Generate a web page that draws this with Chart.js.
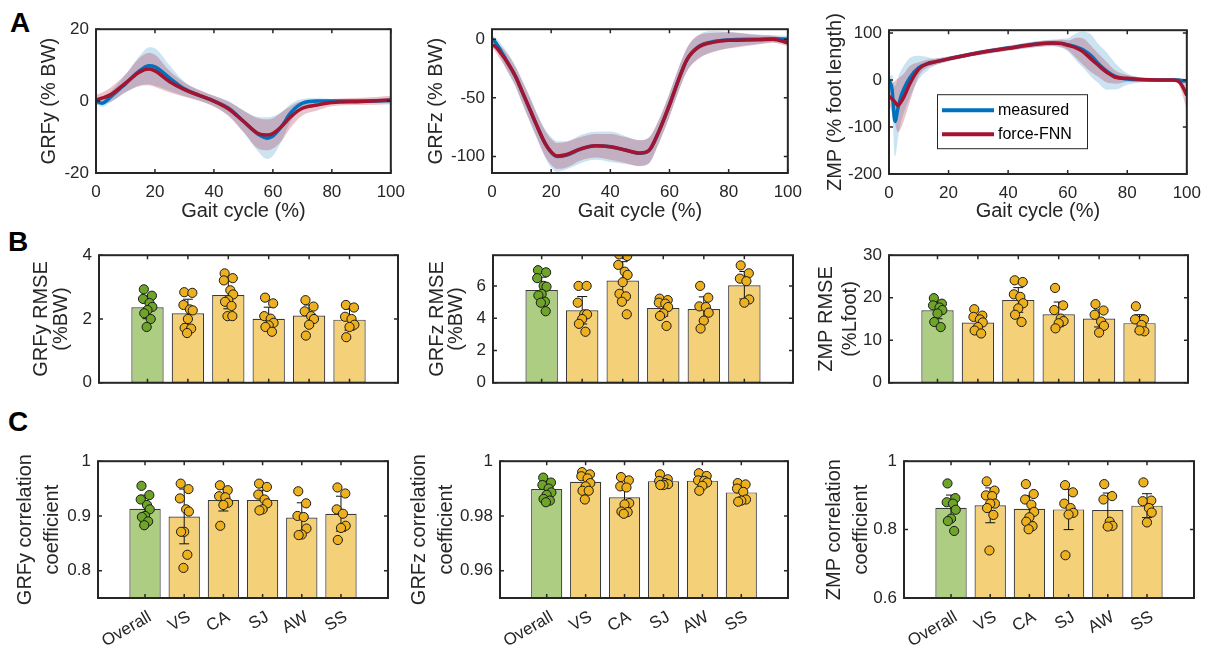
<!DOCTYPE html>
<html lang="en">
<head>
<meta charset="UTF-8">
<title>GRF and ZMP estimation</title>
<script src="https://cdn.jsdelivr.net/npm/chart.js@4.4.1/dist/chart.umd.min.js"></script>
<style>
  body { margin: 0; background: #fff; }
  #fig { position: relative; width: 1214px; height: 646px; overflow: hidden; font-family: "Liberation Sans", Arial, sans-serif; }
  #fig canvas { position: absolute; }
  .tag { position: absolute; font-weight: bold; font-size: 28px; line-height: 28px; color: #000; }
</style>
</head>
<body>
<div id="fig">
  <div class="tag" style="left:10px;top:9px">A</div>
  <div class="tag" style="left:8px;top:228px">B</div>
  <div class="tag" style="left:8px;top:408px">C</div>
</div>
<script>
// ---------- row A: mean ± SD over the gait cycle ----------
const grfyPct   = [0, 2, 5, 10, 15, 18, 20, 25, 30, 35, 40, 45, 50, 55, 58, 60, 63, 66, 70, 75, 80, 90, 100];
const grfyMeas  = [0, -0.6, 1.2, 4.8, 8.6, 9.8, 9.5, 6.4, 3.4, 1.6, 0, -2, -5.6, -9.2, -10.3, -9.7, -7, -3.3, -0.6, 0, 0, 0, 0.2];
const grfyMeasSd = [0.8, 1, 1.5, 2.5, 4.2, 5.2, 5.2, 3.5, 2, 1.5, 1.5, 2, 3, 4.8, 5.8, 5.5, 4, 2.5, 1.2, 0.8, 0.6, 0.6, 0.6];
const grfyFnn   = [0.3, 0.8, 1.8, 5.0, 8.2, 8.9, 8.4, 5.4, 3.2, 1.6, 0, -2.2, -5.6, -9.0, -9.4, -9.0, -7.0, -4.4, -2.0, -1.1, -0.4, -0.1, 0.3];
const grfyFnnSd = [1.5, 1.5, 2, 2.5, 4, 4.5, 4.5, 3, 2, 1.5, 1.5, 2, 3, 4.2, 4.3, 4.2, 4, 3, 2, 1.5, 1, 1, 1.2];

const grfzPct   = [0, 1, 3, 5, 8, 10, 13, 15, 18, 20, 22, 25, 30, 35, 40, 45, 50, 53, 56, 60, 63, 66, 70, 75, 80, 90, 95, 100];
const grfzMeas  = [0, -2, -10, -18.6, -32, -43.6, -61, -72.8, -89, -96.4, -100, -99, -93.6, -90.8, -91.7, -94.4, -97.2, -95, -81, -56, -35, -17, -6, -2, -0.6, 0, 0.3, 0];
const grfzMeasSd = [3, 4, 6, 8, 9, 10, 11, 11, 12, 13, 13, 12, 12, 12, 13, 12, 11, 11, 10, 10, 10, 10, 10, 9, 7, 4, 3, 3];
const grfzFnn   = [-5, -6, -12, -19, -32, -43.6, -61, -72.8, -89, -96, -99.5, -98.5, -93.4, -90.8, -91.7, -94.4, -97, -95, -81, -56, -35, -17, -6.5, -2.5, -1, -0.5, 0, -3];
const grfzFnnSd = [3, 4, 6, 7, 8, 9, 10, 10, 11, 11, 11, 11, 10, 10, 11, 11, 11, 11, 10, 10, 10, 10, 10, 8, 7, 4, 3, 3];

const zmpPct    = [0, 1, 2, 3, 4, 5, 7, 10, 13, 15, 20, 30, 40, 50, 55, 58, 60, 63, 65, 68, 70, 73, 76, 80, 85, 90, 95, 97, 98, 99, 100];
const zmpMeas   = [0, -19, -88, -60, -35, -19, 5, 26.5, 35, 38, 45, 58, 68, 77, 79, 78, 75, 70, 65, 51, 37, 19.5, 7.7, 2, 0.5, 0, 0, 0, -1, -2, -2];
const zmpMeasSd = [5, 30, 75, 65, 55, 50, 42, 25, 14, 8, 5, 5, 5, 6, 7, 10, 14, 30, 38, 45, 42, 40, 28, 12, 5, 3, 3, 3, 3, 3, 3];
const zmpFnn    = [-35, -40, -47, -54, -47, -36, -8, 23, 35, 38, 45, 57.5, 67.5, 76.5, 78.5, 77.5, 74, 68, 61, 44, 33, 17, 6, 3.5, 1, 0, 0, -2, -8, -19, -33];
const zmpFnnSd  = [15, 30, 45, 57, 55, 50, 38, 15, 8, 7, 5, 5, 5, 6, 6, 8, 10, 22, 28, 28, 25, 22, 14, 7, 4, 3, 3, 5, 12, 22, 32];

const gaitTicks = [0, 20, 40, 60, 80, 100];

// ---------- rows B and C: per-task bars, SD and subjects ----------
const groups = ['Overall', 'VS', 'CA', 'SJ', 'AW', 'SS'];

const grfyRmseMean = [2.37, 2.18, 2.75, 2.01, 2.11, 1.98];
const grfyRmseSd   = [0.36, 0.44, 0.43, 0.36, 0.33, 0.33];
const grfyRmseSubj = [
  [2.93, 2.73, 2.63, 2.50, 2.38, 2.28, 2.18, 2.00, 1.75],
  [2.84, 2.82, 2.44, 2.30, 2.27, 2.00, 1.72, 1.70, 1.56],
  [3.43, 3.28, 3.21, 2.90, 2.77, 2.59, 2.54, 2.41, 2.09, 2.09],
  [2.67, 2.49, 2.09, 2.01, 1.88, 1.80, 1.75, 1.60],
  [2.59, 2.39, 2.24, 2.09, 2.00, 1.82, 1.48],
  [2.44, 2.36, 2.07, 2.00, 1.82, 1.75, 1.43]
];

const grfzRmseMean = [5.74, 4.49, 6.33, 4.63, 4.57, 6.04];
const grfzRmseSd   = [0.8, 0.85, 1.17, 0.5, 0.75, 0.85];
const grfzRmseSubj = [
  [6.97, 6.84, 6.48, 6.00, 5.95, 5.50, 5.41, 5.02, 4.96, 4.43],
  [6.00, 6.00, 4.96, 4.24, 4.24, 3.95, 3.65, 3.16],
  [7.95, 7.85, 7.30, 6.88, 6.68, 6.23, 5.51, 5.35, 5.02, 4.24],
  [5.21, 5.12, 4.96, 4.90, 4.69, 4.30, 4.14, 3.52],
  [6.00, 5.27, 4.73, 4.69, 4.34, 3.85, 3.36],
  [7.27, 6.78, 6.45, 6.29, 5.16, 4.96]
];

const zmpRmseMean = [17.05, 14.17, 19.48, 16.09, 15.13, 14.02];
const zmpRmseSd   = [2.0, 1.9, 2.9, 2.9, 2.0, 2.0];
const zmpRmseSubj = [
  [19.9, 18.6, 18.2, 17.7, 17.1, 16.3, 14.3, 13.1],
  [17.3, 15.8, 15.5, 14.9, 14.2, 13.1, 12.3, 11.6],
  [24.1, 23.7, 20.8, 20.2, 18.7, 17.5, 16.0, 14.3],
  [22.3, 18.2, 17.1, 15.1, 14.5, 14.0, 12.8],
  [18.5, 17.0, 16.0, 14.4, 13.4, 11.8],
  [18.0, 14.9, 14.9, 13.6, 12.1, 12.3]
];

const grfyCorrMean = [0.913, 0.899, 0.929, 0.929, 0.897, 0.904];
const grfyCorrSd   = [0.025, 0.05, 0.02, 0.018, 0.027, 0.032];
const grfyCorrSubj = [
  [0.955, 0.938, 0.930, 0.920, 0.912, 0.900, 0.898, 0.890, 0.883],
  [0.959, 0.949, 0.932, 0.912, 0.908, 0.871, 0.871, 0.829, 0.805],
  [0.956, 0.947, 0.936, 0.934, 0.924, 0.920, 0.882],
  [0.959, 0.953, 0.939, 0.930, 0.923, 0.912, 0.910],
  [0.945, 0.923, 0.900, 0.898, 0.877, 0.866, 0.865],
  [0.952, 0.941, 0.912, 0.904, 0.882, 0.878, 0.856]
];

const grfzCorrMean = [0.9898, 0.9925, 0.9868, 0.9927, 0.9929, 0.9886];
const grfzCorrSd   = [0.003, 0.003, 0.005, 0.0015, 0.002, 0.0025];
const grfzCorrSubj = [
  [0.9940, 0.9922, 0.9913, 0.9900, 0.9886, 0.9877, 0.9862, 0.9856, 0.9850],
  [0.9960, 0.9952, 0.9945, 0.9937, 0.9920, 0.9908, 0.9892, 0.9892, 0.9860],
  [0.9942, 0.9930, 0.9908, 0.9904, 0.9847, 0.9842, 0.9816, 0.9814, 0.9808],
  [0.9952, 0.9934, 0.9928, 0.9920, 0.9916, 0.9913, 0.9913],
  [0.9956, 0.9946, 0.9930, 0.9928, 0.9922, 0.9910, 0.9892],
  [0.9920, 0.9915, 0.9900, 0.9888, 0.9860, 0.9856, 0.9852]
];

const zmpCorrMean = [0.864, 0.871, 0.861, 0.859, 0.857, 0.870];
const zmpCorrSd   = [0.037, 0.051, 0.038, 0.059, 0.05, 0.035];
const zmpCorrSubj = [
  [0.935, 0.892, 0.880, 0.876, 0.858, 0.832, 0.825, 0.796],
  [0.941, 0.914, 0.900, 0.898, 0.876, 0.876, 0.863, 0.843, 0.739],
  [0.933, 0.904, 0.888, 0.873, 0.852, 0.836, 0.823, 0.810, 0.801],
  [0.930, 0.909, 0.876, 0.863, 0.849, 0.844, 0.725],
  [0.933, 0.898, 0.888, 0.823, 0.811, 0.809],
  [0.938, 0.885, 0.883, 0.863, 0.850, 0.821]
];

// horizontal spread of the subject dots around each bar (in category units)
const jitter = [-0.09, 0.11, -0.11, 0.05, 0.12, 0.0, -0.08, 0.08, -0.02, 0.1];

// ---------- styling ----------
const INK = '#262626';
const FONT = '"Liberation Sans", Arial, Helvetica, sans-serif';
const BLUE = 'rgb(0,114,189)';
const RED = 'rgb(162,20,47)';
const BLUE_BAND = 'rgba(0,114,189,0.2)';
const RED_BAND = 'rgba(162,20,47,0.25)';
const BAR_FILL = ['rgb(173,205,131)', 'rgb(244,208,121)'];
const DOT_FILL = ['rgb(110,165,40)', 'rgb(237,177,32)'];

const fig = document.getElementById('fig');

// box with inward ticks on all four sides
const boxPlugin = {
  id: 'axisBox',
  afterDatasetsDraw(chart) {
    const {ctx, chartArea: a, scales: {x, y}} = chart;
    ctx.save();
    ctx.strokeStyle = INK;
    ctx.lineWidth = 1.5;
    ctx.beginPath();
    x.ticks.forEach(t => {
      const px = x.getPixelForValue(t.value);
      ctx.moveTo(px, a.bottom); ctx.lineTo(px, a.bottom - 4);
      ctx.moveTo(px, a.top); ctx.lineTo(px, a.top + 4);
    });
    y.ticks.forEach(t => {
      const py = y.getPixelForValue(t.value);
      ctx.moveTo(a.left, py); ctx.lineTo(a.left + 4, py);
      ctx.moveTo(a.right, py); ctx.lineTo(a.right - 4, py);
    });
    ctx.stroke();
    ctx.lineWidth = 2;
    ctx.strokeRect(a.left, a.top, a.right - a.left, a.bottom - a.top);
    ctx.restore();
  }
};

// standard deviation whiskers, drawn right after the bars
const sdPlugin = {
  id: 'sdBars',
  afterDatasetDraw(chart, args, opts) {
    if (args.meta.type !== 'bar' || !opts.sd) return;
    const {ctx, chartArea: a, scales: {x, y}} = chart;
    ctx.save();
    ctx.beginPath();
    ctx.rect(a.left, a.top, a.right - a.left, a.bottom - a.top);
    ctx.clip();
    ctx.strokeStyle = '#111';
    ctx.lineWidth = 1;
    ctx.beginPath();
    opts.mean.forEach((m, i) => {
      const px = x.getPixelForValue(i + 1);
      const y1 = y.getPixelForValue(m - opts.sd[i]);
      const y2 = y.getPixelForValue(m + opts.sd[i]);
      ctx.moveTo(px, y1); ctx.lineTo(px, y2);
      ctx.moveTo(px - 5, y1); ctx.lineTo(px + 5, y1);
      ctx.moveTo(px - 5, y2); ctx.lineTo(px + 5, y2);
    });
    ctx.stroke();
    ctx.restore();
  }
};

// boxed legend sitting inside the plot area
const legendPlugin = {
  id: 'boxLegend',
  afterDraw(chart, args, opts) {
    if (!opts.items) return;
    const {ctx, chartArea: a} = chart;
    const x0 = a.left + opts.dx, y0 = a.top + opts.dy;
    ctx.save();
    ctx.fillStyle = '#fff';
    ctx.fillRect(x0, y0, opts.w, opts.h);
    ctx.strokeStyle = INK;
    ctx.lineWidth = 1;
    ctx.strokeRect(x0 + 0.5, y0 + 0.5, opts.w, opts.h);
    opts.items.forEach((it, i) => {
      const yy = y0 + 16 + i * 24;
      ctx.strokeStyle = it.color;
      ctx.lineWidth = 4;
      ctx.beginPath();
      ctx.moveTo(x0 + 5, yy); ctx.lineTo(x0 + 57, yy);
      ctx.stroke();
      ctx.fillStyle = '#000';
      ctx.font = '16px ' + FONT;
      ctx.textBaseline = 'middle';
      ctx.fillText(it.text, x0 + 61, yy);
    });
    ctx.restore();
  }
};

function frame(p) {
  const left = p.box.l - 90, top = p.box.t - 14;
  const width = p.box.r + 18 - left, height = p.bottom - top;
  const c = document.createElement('canvas');
  c.width = width; c.height = height;
  Object.assign(c.style, {left: left + 'px', top: top + 'px', width: width + 'px', height: height + 'px'});
  fig.appendChild(c);
  return {canvas: c, left};
}

function scales(p, f, xs) {
  return {
    x: {
      type: 'linear', min: xs.min, max: xs.max, offset: false,
      grid: {display: false, drawTicks: false, offset: false}, border: {display: false},
      afterBuildTicks: s => { s.ticks = xs.ticks.map(v => ({value: v})); },
      afterFit: s => { s.height = p.bottom - p.box.b; },
      ticks: {color: INK, font: {family: FONT, size: 17}, padding: xs.pad, autoSkip: false,
              labelOffset: xs.shift || 0,
              minRotation: xs.rot, maxRotation: xs.rot, callback: xs.label},
      title: {display: !!xs.title, text: xs.title, color: INK,
              font: {family: FONT, size: 20, lineHeight: 1.2}, padding: {top: 0, bottom: xs.titlePad || 0}}
    },
    y: {
      type: 'linear', min: p.yMin, max: p.yMax,
      grid: {display: false, drawTicks: false}, border: {display: false},
      afterBuildTicks: s => { s.ticks = p.yTicks.map(v => ({value: v})); },
      afterFit: s => { s.width = p.box.l - f.left; },
      ticks: {color: INK, font: {family: FONT, size: 17}, padding: 7, callback: v => String(v)},
      title: {display: true, text: p.yTitle, color: INK,
              font: {family: FONT, size: 20, lineHeight: p.titleLH / 20},
              padding: {top: p.titleX - f.left - p.titleLH / 2, bottom: 0}}
    }
  };
}

const baseOptions = {
  responsive: false,
  animation: false,
  events: [],
  layout: {padding: {left: 0, top: 14, right: 18, bottom: 0}}
};

const xy = (pct, vals) => pct.map((g, i) => ({x: g, y: vals[i]}));
const plus = (m, s) => m.map((v, i) => v + s[i]);
const minus = (m, s) => m.map((v, i) => v - s[i]);

function gaitPanel(p) {
  const f = frame(p);
  const curve = {pointRadius: 0, cubicInterpolationMode: 'monotone'};
  const edge = {...curve, borderWidth: 0, borderColor: 'transparent'};
  new Chart(f.canvas, {
    type: 'line',
    data: {datasets: [
      {...curve, label: 'force-FNN', data: xy(p.pct, p.fnn), borderColor: RED, borderWidth: 3.5, fill: false},
      {...curve, label: 'measured', data: xy(p.pct, p.meas), borderColor: BLUE, borderWidth: 3.5, fill: false},
      {...edge, data: xy(p.pct, minus(p.fnn, p.fnnSd)), backgroundColor: RED_BAND, fill: '+1'},
      {...edge, data: xy(p.pct, plus(p.fnn, p.fnnSd)), fill: false},
      {...edge, data: xy(p.pct, minus(p.meas, p.measSd)), backgroundColor: BLUE_BAND, fill: '+1'},
      {...edge, data: xy(p.pct, plus(p.meas, p.measSd)), fill: false}
    ]},
    options: {
      ...baseOptions,
      plugins: {legend: {display: false}, tooltip: {enabled: false}, boxLegend: p.legend || {}},
      scales: scales(p, f, {min: 0, max: 100, ticks: gaitTicks, pad: 9, rot: 0,
                            label: v => String(v), title: 'Gait cycle (%)', titlePad: 13})
    },
    plugins: [boxPlugin, legendPlugin]
  });
}

function taskPanel(p) {
  const f = frame(p);
  const dots = [], dotColors = [];
  p.subj.forEach((vals, g) => vals.forEach((v, k) => {
    dots.push({x: g + 1 + jitter[k % jitter.length], y: v});
    dotColors.push(DOT_FILL[g === 0 ? 0 : 1]);
  }));
  new Chart(f.canvas, {
    type: 'bar',
    data: {datasets: [
      {type: 'scatter', data: dots, pointRadius: 4.6, pointBackgroundColor: dotColors,
       pointBorderColor: '#1a1a1a', pointBorderWidth: 1},
      {type: 'bar', data: p.mean.map((m, i) => ({x: i + 1, y: m})),
       backgroundColor: groups.map((g, i) => BAR_FILL[i === 0 ? 0 : 1]),
       borderColor: '#3a3a3a', borderWidth: 1.2, borderSkipped: false,
       categoryPercentage: 0.8, barPercentage: 1}
    ]},
    options: {
      ...baseOptions,
      plugins: {legend: {display: false}, tooltip: {enabled: false}, sdBars: {mean: p.mean, sd: p.sd}},
      scales: scales(p, f, {min: -0.2, max: 7.2, ticks: [1, 2, 3, 4, 5, 6], pad: p.names ? 9 : 0,
                            shift: p.names ? 5 : 0,
                            rot: p.names ? 30 : 0, label: v => p.names ? groups[v - 1] : ''})
    },
    plugins: [boxPlugin, sdPlugin]
  });
}

// ---------- row A ----------
gaitPanel({box: {l: 96, t: 26, r: 396, b: 173}, bottom: 236, yMin: -20, yMax: 20, yTicks: [-20, 0, 20],
  yTitle: 'GRFy (% BW)', titleX: 49, titleLH: 24,
  pct: grfyPct, meas: grfyMeas, measSd: grfyMeasSd, fnn: grfyFnn, fnnSd: grfyFnnSd});
gaitPanel({box: {l: 492, t: 26, r: 793, b: 173}, bottom: 236, yMin: -114, yMax: 8.5, yTicks: [-100, -50, 0],
  yTitle: 'GRFz (% BW)', titleX: 436, titleLH: 24,
  pct: grfzPct, meas: grfzMeas, measSd: grfzMeasSd, fnn: grfzFnn, fnnSd: grfzFnnSd});
gaitPanel({box: {l: 889, t: 27, r: 1192, b: 174}, bottom: 236, yMin: -200, yMax: 106, yTicks: [-200, -100, 0, 100],
  yTitle: 'ZMP (% foot length)', titleX: 835, titleLH: 24,
  pct: zmpPct, meas: zmpMeas, measSd: zmpMeasSd, fnn: zmpFnn, fnnSd: zmpFnnSd,
  legend: {dx: 48, dy: 64, w: 150, h: 54, items: [{text: 'measured', color: BLUE}, {text: 'force-FNN', color: RED}]}});

// ---------- row B ----------
taskPanel({box: {l: 99, t: 252, r: 398, b: 387}, bottom: 400, yMin: 0, yMax: 4, yTicks: [0, 2, 4],
  yTitle: ['GRFy RMSE', '(%BW)'], titleX: 41, titleLH: 20,
  mean: grfyRmseMean, sd: grfyRmseSd, subj: grfyRmseSubj});
taskPanel({box: {l: 493, t: 252, r: 793, b: 387}, bottom: 400, yMin: 0, yMax: 7.9, yTicks: [0, 2, 4, 6],
  yTitle: ['GRFz RMSE', '(%BW)'], titleX: 437, titleLH: 19,
  mean: grfzRmseMean, sd: grfzRmseSd, subj: grfzRmseSubj});
taskPanel({box: {l: 889, t: 252, r: 1188, b: 387}, bottom: 400, yMin: 0, yMax: 30, yTicks: [0, 10, 20, 30],
  yTitle: ['ZMP RMSE', '(%Lfoot)'], titleX: 826, titleLH: 24,
  mean: zmpRmseMean, sd: zmpRmseSd, subj: zmpRmseSubj});

// ---------- row C ----------
taskPanel({box: {l: 98, t: 458, r: 388, b: 598}, bottom: 646, yMin: 0.75, yMax: 1, yTicks: [0.8, 0.9, 1],
  yTitle: ['GRFy correlation', 'coefficient'], titleX: 25, titleLH: 27, names: true,
  mean: grfyCorrMean, sd: grfyCorrSd, subj: grfyCorrSubj});
taskPanel({box: {l: 500, t: 458, r: 788, b: 598}, bottom: 646, yMin: 0.95, yMax: 1, yTicks: [0.96, 0.98, 1],
  yTitle: ['GRFz correlation', 'coefficient'], titleX: 419, titleLH: 27, names: true,
  mean: grfzCorrMean, sd: grfzCorrSd, subj: grfzCorrSubj});
taskPanel({box: {l: 904, t: 458, r: 1194, b: 598}, bottom: 646, yMin: 0.6, yMax: 1, yTicks: [0.6, 0.8, 1],
  yTitle: ['ZMP correlation', 'coefficient'], titleX: 834, titleLH: 27, names: true,
  mean: zmpCorrMean, sd: zmpCorrSd, subj: zmpCorrSubj});
</script>
</body>
</html>
